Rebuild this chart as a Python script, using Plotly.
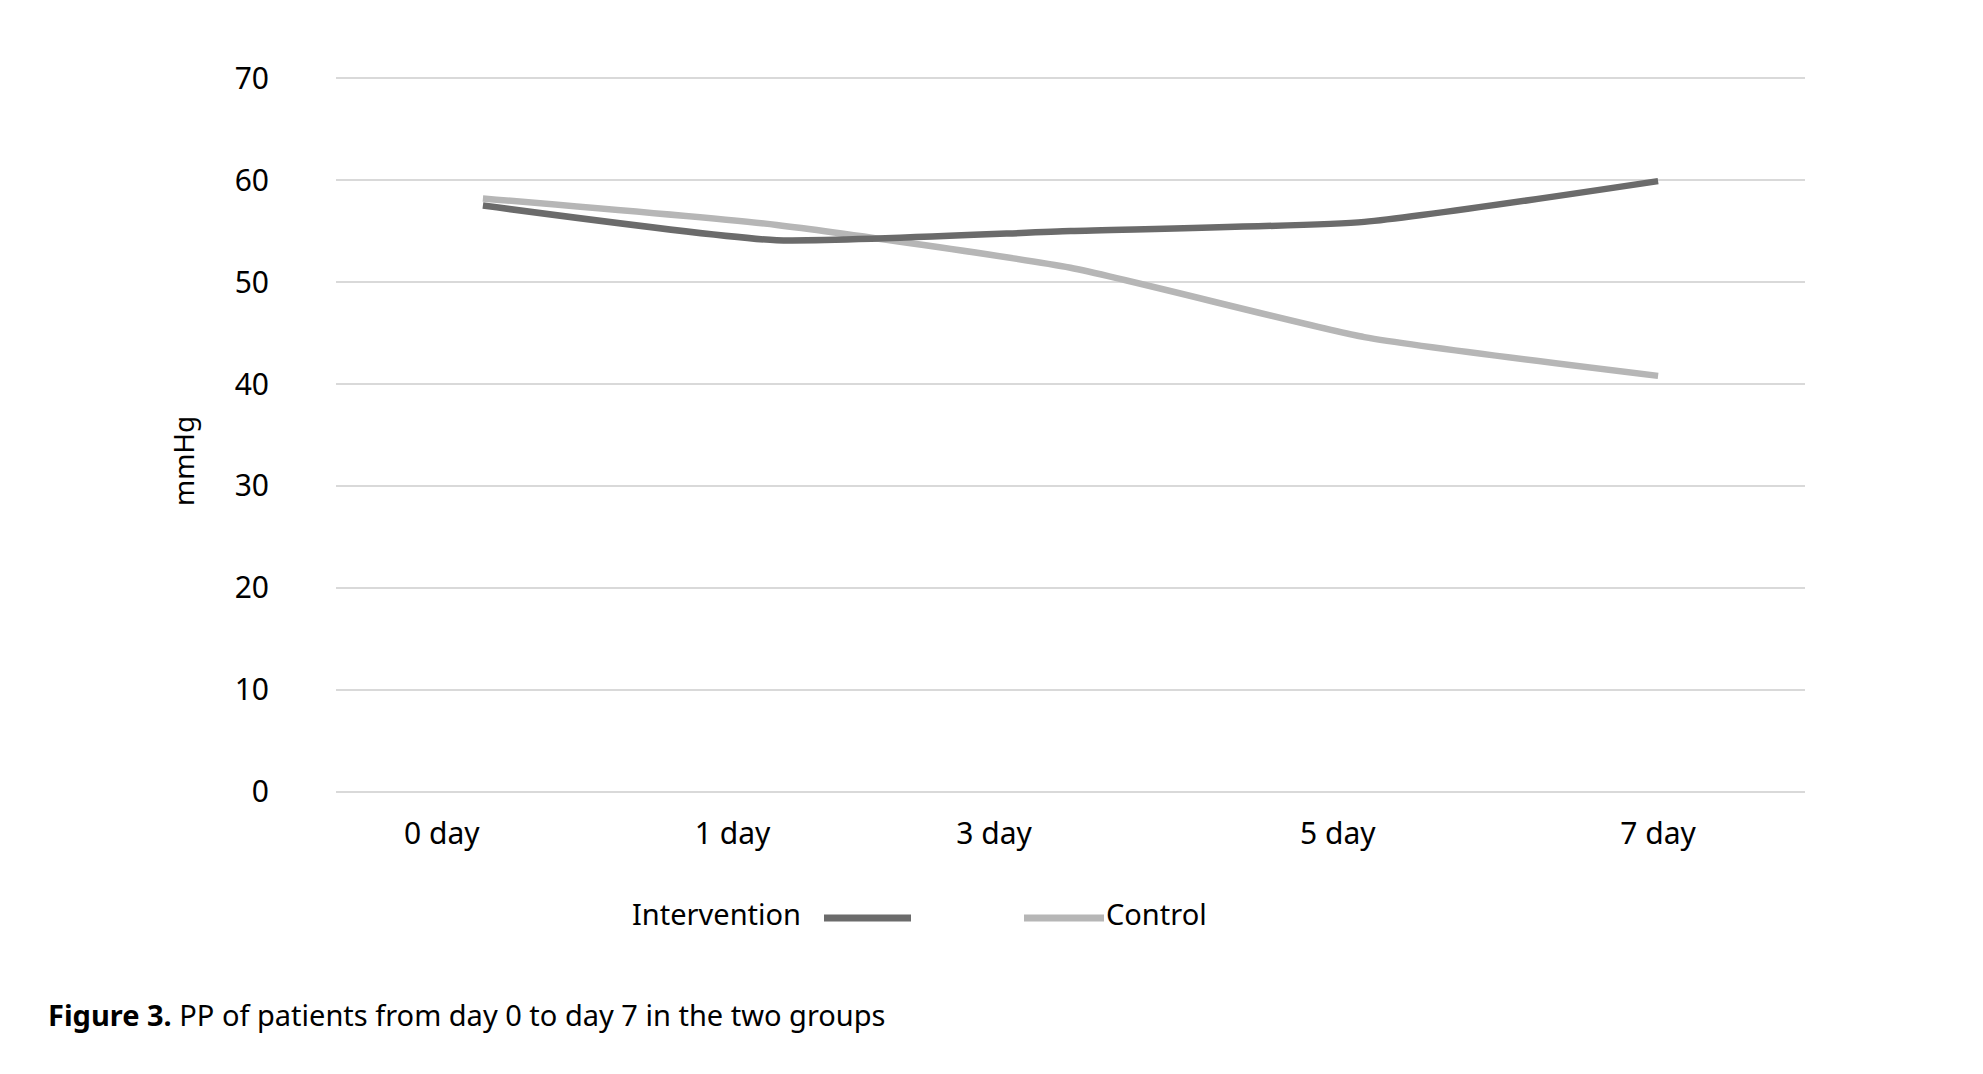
import plotly.graph_objects as go

categories = ["0 day", "1 day", "3 day", "5 day", "7 day"]
intervention = [57.5, 54.1, 55.0, 55.9, 59.9]
control = [58.2, 55.6, 51.4, 44.6, 40.8]
y_ticks = [0, 10, 20, 30, 40, 50, 60, 70]
# label positions as they appear (slightly offset) in the original
label_pos = [-0.14, 0.85, 1.74, 2.91, 4.0]

DARK = "#6b6b6b"
LIGHT = "#b6b6b6"
FONT = "Noto Sans"

W, H = 1983, 1074
OFF = 8  # page body margin
L, R, T, B = 328, 186, 65, 285

xs = list(range(len(categories)))
fig = go.Figure()
fig.add_trace(go.Scatter(x=xs, y=control, mode="lines", name="Control",
                         line=dict(color=LIGHT, width=6.5, shape="spline", smoothing=0.5)))
fig.add_trace(go.Scatter(x=xs, y=intervention, mode="lines", name="Intervention",
                         line=dict(color=DARK, width=6.5, shape="spline", smoothing=0.5)))

fig.update_layout(
    width=W, height=H,
    margin=dict(l=L, r=R, t=T, b=B),
    paper_bgcolor="white", plot_bgcolor="white",
    showlegend=False,
    font=dict(family=FONT, color="black"),
)
fig.update_xaxes(range=[-0.5, 4.5], tickvals=label_pos, ticktext=categories,
                 showgrid=False, zeroline=False, showline=False, ticks="",
                 tickfont=dict(size=30), ticklabelstandoff=16)
fig.update_yaxes(range=[-0.5, 70.5], tickvals=y_ticks, showgrid=True,
                 gridcolor="#d9d9d9", gridwidth=2, zeroline=False, showline=False,
                 ticks="", tickfont=dict(size=30), ticklabelstandoff=66)


def px_x(p):
    return (p - OFF - L) / (W - L - R)


def px_y(p):
    return 1 - (p - OFF - T) / (H - T - B)


# y-axis title
fig.add_annotation(text="mmHg", xref="paper", yref="paper", x=px_x(183), y=px_y(461),
                   xanchor="center", yanchor="middle", textangle=-90,
                   showarrow=False, font=dict(size=28, family=FONT))

# custom legend (text left of first sample, right of second)
fig.add_annotation(text="Intervention", xref="paper", yref="paper", x=px_x(803), y=px_y(913),
                   xanchor="right", yanchor="middle", showarrow=False, font=dict(size=29, family=FONT))
fig.add_shape(type="line", xref="paper", yref="paper", x0=px_x(824), x1=px_x(911),
              y0=px_y(918), y1=px_y(918), line=dict(color=DARK, width=7))
fig.add_shape(type="line", xref="paper", yref="paper", x0=px_x(1024), x1=px_x(1104),
              y0=px_y(918), y1=px_y(918), line=dict(color=LIGHT, width=7))
fig.add_annotation(text="Control", xref="paper", yref="paper", x=px_x(1104), y=px_y(913),
                   xanchor="left", yanchor="middle", showarrow=False, font=dict(size=29, family=FONT))

# caption
fig.add_annotation(text="<b>Figure 3.</b> PP of patients from day 0 to day 7 in the two groups",
                   xref="paper", yref="paper", x=px_x(46), y=px_y(1014),
                   xanchor="left", yanchor="middle", showarrow=False,
                   font=dict(size=29, family=FONT))

fig.write_html("out.html")
